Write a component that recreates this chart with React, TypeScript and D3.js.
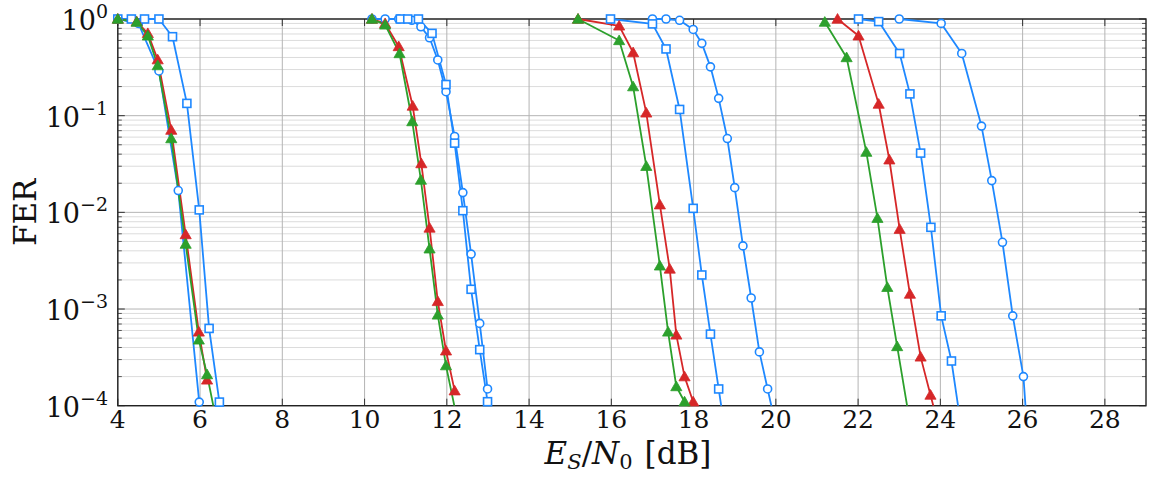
import React from "react";
import * as d3 from "d3";

// ---- data (Es/N0 [dB], FER) ----
const xTicks = [4, 6, 8, 10, 12, 14, 16, 18, 20, 22, 24, 26, 28];
const yDecades = [0, -1, -2, -3, -4];

// group 1
const g1Circle: [number, number][] = [[4.0, 1], [4.5, 0.9], [5.0, 0.29], [5.47, 0.0168], [5.98, 1.09e-4]];
const g1Square: [number, number][] = [[4.0, 1], [4.33, 1], [4.65, 1], [5.0, 1], [5.33, 0.656], [5.68, 0.134], [5.98, 0.0106], [6.22, 6.3e-4], [6.47, 1.09e-4]];
const g1Red: [number, number][] = [[4.0, 1], [4.46, 0.94], [4.73, 0.71], [4.97, 0.38], [5.3, 0.071], [5.65, 0.0059], [5.97, 5.8e-4], [6.17, 1.85e-4]];
const g1Green: [number, number][] = [[4.0, 1], [4.46, 0.93], [4.73, 0.67], [4.97, 0.33], [5.3, 0.058], [5.65, 0.0047], [5.97, 4.8e-4], [6.17, 2.1e-4], [6.37, 7.9e-5]];

// group 2
const g2Circle: [number, number][] = [[10.18, 1], [10.5, 1], [10.83, 1], [11.15, 0.97], [11.37, 0.83], [11.58, 0.64], [11.78, 0.377], [11.98, 0.177], [12.19, 0.061], [12.39, 0.016], [12.59, 0.0037], [12.8, 7.1e-4], [12.99, 1.49e-4]];
const g2Square: [number, number][] = [[10.87, 1], [11.05, 1], [11.31, 1], [11.64, 0.71], [11.98, 0.21], [12.19, 0.052], [12.39, 0.0104], [12.59, 0.0016], [12.8, 3.8e-4], [12.99, 1.1e-4]];
const g2Red: [number, number][] = [[10.18, 1], [10.5, 0.9], [10.83, 0.52], [11.17, 0.126], [11.38, 0.032], [11.58, 0.0069], [11.78, 0.0012], [11.98, 3.7e-4], [12.19, 1.43e-4]];
const g2Green: [number, number][] = [[10.18, 1], [10.5, 0.87], [10.85, 0.44], [11.16, 0.087], [11.37, 0.0216], [11.58, 0.0042], [11.78, 8.7e-4], [11.98, 2.6e-4], [12.28, 6.3e-5]];

// group 3
const g3Circle: [number, number][] = [[17.0, 1], [17.33, 1], [17.66, 0.97], [17.99, 0.78], [18.2, 0.56], [18.41, 0.32], [18.61, 0.151], [18.82, 0.058], [19.0, 0.018], [19.2, 0.0045], [19.4, 0.0013], [19.6, 3.6e-4], [19.8, 1.49e-4], [20.01, 5.9e-5]];
const g3Square: [number, number][] = [[15.98, 1], [17.0, 0.89], [17.33, 0.49], [17.66, 0.116], [17.99, 0.011], [18.2, 0.00225], [18.41, 5.5e-4], [18.61, 1.49e-4], [18.82, 3.8e-5]];
const g3Red: [number, number][] = [[15.19, 1], [16.19, 0.85], [16.53, 0.45], [16.85, 0.107], [17.18, 0.012], [17.42, 0.0026], [17.58, 5.4e-4], [17.78, 2.0e-4], [17.99, 1.1e-4]];
const g3Green: [number, number][] = [[15.19, 1], [16.19, 0.6], [16.53, 0.2], [16.85, 0.03], [17.18, 0.0028], [17.38, 5.8e-4], [17.58, 1.58e-4], [17.78, 1.1e-4]];

// group 4
const g4Circle: [number, number][] = [[23.0, 1], [24.02, 0.9], [24.52, 0.44], [25.0, 0.078], [25.25, 0.0213], [25.51, 0.0049], [25.76, 8.5e-4], [26.02, 2.0e-4], [26.27, 6e-6]];
const g4Square: [number, number][] = [[22.01, 1], [22.5, 0.94], [23.01, 0.44], [23.26, 0.168], [23.52, 0.041], [23.77, 0.007], [24.02, 8.5e-4], [24.27, 2.9e-4], [24.52, 5.5e-5]];
const g4Red: [number, number][] = [[21.5, 1], [22.01, 0.67], [22.5, 0.132], [22.76, 0.035], [23.01, 0.0067], [23.26, 0.00143], [23.52, 3.2e-4], [23.76, 1.29e-4], [24.02, 4.9e-5]];
const g4Green: [number, number][] = [[21.19, 0.93], [21.72, 0.4], [22.2, 0.042], [22.47, 0.0087], [22.71, 0.00168], [22.95, 4.1e-4], [23.45, 2.2e-5]];

const BLUE = "#1e88ff";
const RED = "#d62728";
const GREEN = "#2ca02c";

type Series = { data: [number, number][]; color: string; marker: "circle" | "square" | "triangle" };
const seriesList: Series[] = [
  { data: g1Circle, color: BLUE, marker: "circle" },
  { data: g2Circle, color: BLUE, marker: "circle" },
  { data: g3Circle, color: BLUE, marker: "circle" },
  { data: g4Circle, color: BLUE, marker: "circle" },
  { data: g1Square, color: BLUE, marker: "square" },
  { data: g2Square, color: BLUE, marker: "square" },
  { data: g3Square, color: BLUE, marker: "square" },
  { data: g4Square, color: BLUE, marker: "square" },
  { data: g1Red, color: RED, marker: "triangle" },
  { data: g2Red, color: RED, marker: "triangle" },
  { data: g3Red, color: RED, marker: "triangle" },
  { data: g4Red, color: RED, marker: "triangle" },
  { data: g1Green, color: GREEN, marker: "triangle" },
  { data: g2Green, color: GREEN, marker: "triangle" },
  { data: g3Green, color: GREEN, marker: "triangle" },
  { data: g4Green, color: GREEN, marker: "triangle" },
];

const W = 1150, H = 477;
const L = 117.8, R = 1146, T = 19, B = 405.7;
const FONT = "'DejaVu Serif', 'Liberation Serif', serif";

export default function App() {
  const x = d3.scaleLinear().domain([4, 29]).range([L, R]);
  const y = d3.scaleLog().domain([1e-4, 1]).range([B, T]);
  const line = d3.line<[number, number]>().x(d => x(d[0])).y(d => y(d[1]));
  const tri = d3.symbol().type(d3.symbolTriangle).size(54)() as string;

  const minor: number[] = [];
  for (let e = -4; e < 0; e++) for (let k = 2; k <= 9; k++) minor.push(k * Math.pow(10, e));

  return (
    <svg width={W} height={H} style={{ position: "absolute", left: 0, top: 0, background: "#fff" }}>
      <defs>
        <clipPath id="plotclip">
          <rect x={L} y={0} width={R - L} height={B} />
        </clipPath>
      </defs>
      {/* minor grid */}
      {minor.map((v, i) => (
        <line key={"mg" + i} x1={L} x2={R} y1={y(v)} y2={y(v)} stroke="#dcdcdc" strokeWidth={1} />
      ))}
      {/* major grid */}
      {yDecades.map(e => (
        <line key={"yg" + e} x1={L} x2={R} y1={y(Math.pow(10, e))} y2={y(Math.pow(10, e))} stroke="#b4b4b4" strokeWidth={1} />
      ))}
      {xTicks.map(t => (
        <line key={"xg" + t} x1={x(t)} x2={x(t)} y1={T} y2={B} stroke="#b4b4b4" strokeWidth={1} />
      ))}
      {/* ticks */}
      {minor.map((v, i) => (
        <g key={"mt" + i}>
          <line x1={L} x2={L + 4} y1={y(v)} y2={y(v)} stroke="#333" strokeWidth={0.8} />
          <line x1={R} x2={R - 4} y1={y(v)} y2={y(v)} stroke="#333" strokeWidth={0.8} />
        </g>
      ))}
      {yDecades.map(e => (
        <g key={"yt" + e}>
          <line x1={L} x2={L + 7} y1={y(Math.pow(10, e))} y2={y(Math.pow(10, e))} stroke="#333" strokeWidth={1} />
          <line x1={R} x2={R - 7} y1={y(Math.pow(10, e))} y2={y(Math.pow(10, e))} stroke="#333" strokeWidth={1} />
        </g>
      ))}
      {xTicks.map(t => (
        <g key={"xt" + t}>
          <line x1={x(t)} x2={x(t)} y1={B} y2={B - 7} stroke="#333" strokeWidth={1} />
          <line x1={x(t)} x2={x(t)} y1={T} y2={T + 7} stroke="#333" strokeWidth={1} />
        </g>
      ))}
      {/* frame */}
      <rect x={L} y={T} width={R - L} height={B - T} fill="none" stroke="#222" strokeWidth={1.4} />

      {/* lines */}
      <g clipPath="url(#plotclip)">
        {seriesList.map((s, i) => (
          <path key={"l" + i} d={line(s.data) as string} fill="none" stroke={s.color} strokeWidth={1.8} strokeLinejoin="round" />
        ))}
      </g>
      {/* markers */}
      {seriesList.map((s, i) => (
        <g key={"m" + i}>
          {s.data.filter(d => d[1] >= 0.99e-4).map((d, j) => {
            const cx = x(d[0]), cy = y(d[1]);
            if (s.marker === "circle")
              return <circle key={j} cx={cx} cy={cy} r={4} fill="#fff" stroke={s.color} strokeWidth={1.6} />;
            if (s.marker === "square")
              return <rect key={j} x={cx - 4} y={cy - 4} width={8} height={8} fill="#fff" stroke={s.color} strokeWidth={1.6} />;
            return <path key={j} d={tri} transform={`translate(${cx},${cy + 1})`} fill={s.color} stroke={s.color} strokeWidth={0.8} />;
          })}
        </g>
      ))}

      {/* y tick labels */}
      {yDecades.map(e => (
        <text key={"yl" + e} x={108} y={y(Math.pow(10, e)) + 11} textAnchor="end" fontFamily={FONT} fontSize={27} fill="#111">
          10
          <tspan dy={-12} fontSize={19}>{e === 0 ? "0" : "\u2212" + Math.abs(e)}</tspan>
        </text>
      ))}
      {/* x tick labels */}
      {xTicks.map(t => (
        <text key={"xl" + t} x={x(t)} y={428} textAnchor="middle" fontFamily={FONT} fontSize={25} fill="#111">
          {t}
        </text>
      ))}
      {/* axis titles */}
      <text transform={`translate(36,${(T + B) / 2}) rotate(-90)`} textAnchor="middle" fontFamily={FONT} fontSize={31} fill="#111">
        FER
      </text>
      <text x={628} y={464} textAnchor="middle" fontFamily={FONT} fontSize={31} fill="#111">
        <tspan fontStyle="italic">E</tspan>
        <tspan fontStyle="italic" fontSize={21} dy={5}>S</tspan>
        <tspan dy={-5}>/</tspan>
        <tspan fontStyle="italic">N</tspan>
        <tspan fontSize={21} dy={5}>0</tspan>
        <tspan dy={-5} dx={12}>[dB]</tspan>
      </text>
    </svg>
  );
}
